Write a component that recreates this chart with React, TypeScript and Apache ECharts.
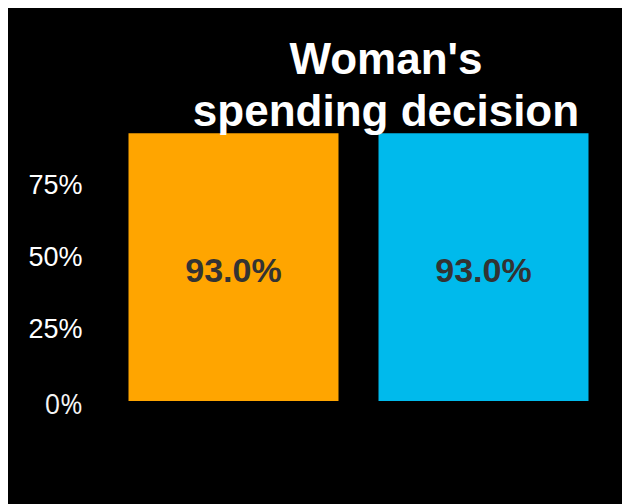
import React, { useEffect, useRef } from "react";
import * as echarts from "echarts";

const titleText = "Woman's\nspending decision";
const categories = ["A", "B"];
const values = [93.0, 93.0];
const barColors = ["#FFA500", "#00BAEC"];
const yTicks = [0, 25, 50, 75, 100];

export default function App() {
  const ref = useRef<HTMLDivElement>(null);
  useEffect(() => {
    document.documentElement.style.overflow = "hidden";
    document.documentElement.style.background = "#ffffff";
    const chart = echarts.init(ref.current!, undefined, { renderer: "svg" });
    chart.setOption({
      animation: false,
      backgroundColor: "#000000",
      title: {
        text: titleText,
        left: 378,
        top: 24,
        padding: 0,
        textAlign: "center",
        textStyle: {
          color: "#ffffff",
          fontSize: 44,
          fontWeight: "bold",
          fontFamily: "Liberation Sans, Arial, sans-serif",
          lineHeight: 52,
        },
      },
      grid: { left: 100.5, width: 500, top: 105, bottom: 103, containLabel: false },
      xAxis: {
        type: "category",
        data: categories,
        show: false,
      },
      yAxis: {
        type: "value",
        min: yTicks[0],
        max: yTicks[yTicks.length - 1],
        interval: 25,
        splitLine: { show: false },
        axisLine: { show: false },
        axisTick: { show: false },
        axisLabel: {
          showMaxLabel: false,
          color: "#ffffff",
          fontSize: 27,
          margin: 26,
          fontFamily: "Liberation Sans, Arial, sans-serif",
          formatter: (v: number) => (v === 0 ? "{z|0%}" : v + "%"),
          rich: {
            z: {
              color: "#f4f4f4",
              fontSize: 27,
              fontFamily: "Open Sans",
              fontWeight: 400,
              padding: [4, 0, 0, 0],
            },
          },
        },
      },
      series: [
        {
          type: "bar",
          data: values.map((v, i) => ({ value: v, itemStyle: { color: barColors[i] } })),
          barCategoryGap: "16%",
          label: {
            show: true,
            position: "inside",
            offset: [0, 3],
            formatter: (p: any) => Number(p.value).toFixed(1) + "%",
            color: "#333333",
            fontSize: 34,
            fontWeight: "bold",
            fontFamily: "Liberation Sans, Arial, sans-serif",
          },
        },
      ],
    });
    return () => chart.dispose();
  }, []);
  return (
    <div
      ref={ref}
      style={{ position: "fixed", left: 8, top: 8, width: 622, height: 496 }}
    />
  );
}
